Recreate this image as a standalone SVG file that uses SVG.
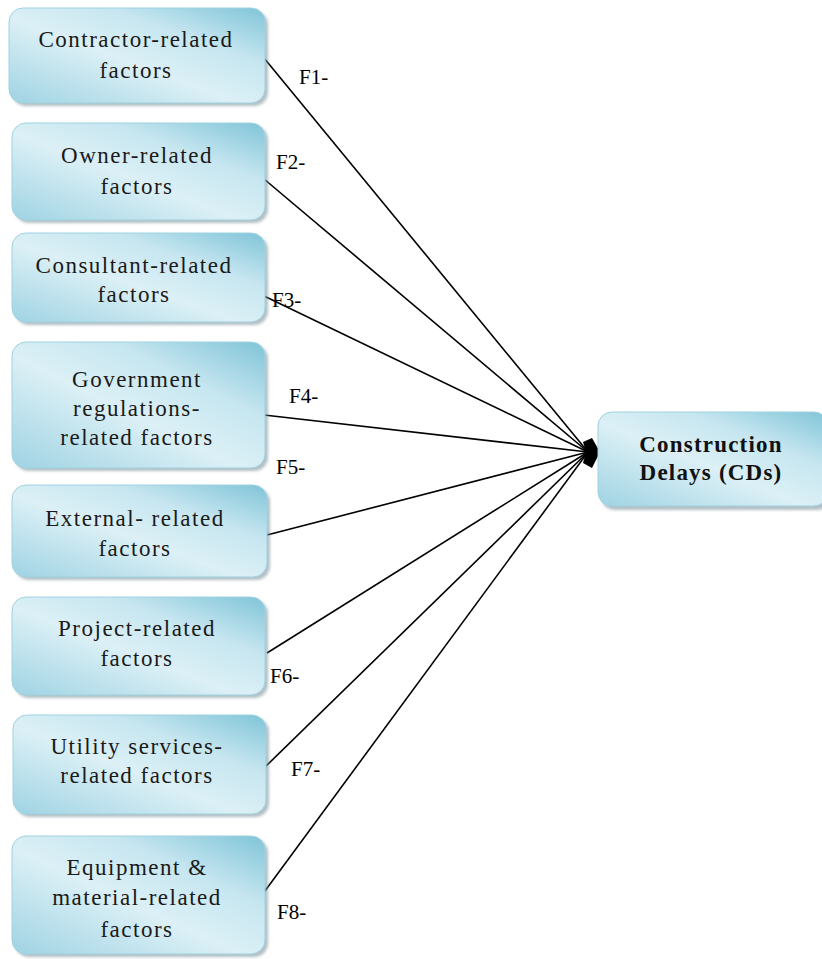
<svg xmlns="http://www.w3.org/2000/svg" width="822" height="959" viewBox="0 0 822 959">
<style>
.box{fill:url(#g);stroke:#9fd2e0;stroke-width:1}
.sh{fill:#7f949c;opacity:0.6}
text{font-family:'Liberation Serif','DejaVu Serif','Times New Roman',serif}
.t{font-size:23px;fill:#1a1a1a;text-anchor:middle;letter-spacing:1.5px}
.b{font-weight:bold;letter-spacing:1.2px;fill:#111}
.l{font-size:21px;fill:#000}
.c{stroke:#000;stroke-width:1.6;fill:none}
</style>
<defs>
<linearGradient id="g" x1="0" y1="1" x2="1" y2="0">
<stop offset="0" stop-color="#9fd3e3"/>
<stop offset="0.45" stop-color="#dcf0f6"/>
<stop offset="0.7" stop-color="#c6e6f0"/>
<stop offset="1" stop-color="#7fc4d8"/>
</linearGradient>
<filter id="blur" x="-5%" y="-5%" width="110%" height="115%"><feGaussianBlur stdDeviation="1.5"/></filter>
</defs>
<g id="connectors">
<line class="c" x1="264" y1="58" x2="588" y2="452"/>
<line class="c" x1="264" y1="179" x2="588" y2="452"/>
<line class="c" x1="264" y1="296" x2="588" y2="452"/>
<line class="c" x1="264" y1="415" x2="588" y2="452"/>
<line class="c" x1="267" y1="535" x2="588" y2="452"/>
<line class="c" x1="267" y1="653" x2="588" y2="452"/>
<line class="c" x1="263" y1="769" x2="588" y2="452"/>
<line class="c" x1="262" y1="895" x2="588" y2="452"/>
<polygon points="583,442 592,438 600,452 592,468 583,463 586,452" fill="#000"/>
</g>
<g id="labels">
<text class="l" x="299" y="84">F1-</text>
<text class="l" x="276" y="169">F2-</text>
<text class="l" x="272" y="307">F3-</text>
<text class="l" x="289" y="403">F4-</text>
<text class="l" x="276" y="474">F5-</text>
<text class="l" x="270" y="683">F6-</text>
<text class="l" x="291" y="776">F7-</text>
<text class="l" x="277" y="919">F8-</text>
</g>
<g id="n1">
<rect class="sh" x="12" y="11" width="256" height="95" rx="14" filter="url(#blur)"/>
<rect class="box" x="9" y="8" width="256" height="95" rx="14"/>
<text class="t" x="136" y="47">Contractor-related</text>
<text class="t" x="136" y="78">factors</text>
</g>
<g id="n2">
<rect class="sh" x="15" y="126" width="253" height="97" rx="14" filter="url(#blur)"/>
<rect class="box" x="12" y="123" width="253" height="97" rx="14"/>
<text class="t" x="137" y="163">Owner-related</text>
<text class="t" x="137" y="194">factors</text>
</g>
<g id="n3">
<rect class="sh" x="15" y="236" width="253" height="89" rx="14" filter="url(#blur)"/>
<rect class="box" x="12" y="233" width="253" height="89" rx="14"/>
<text class="t" x="134" y="273">Consultant-related</text>
<text class="t" x="134" y="302">factors</text>
</g>
<g id="n4">
<rect class="sh" x="15" y="345" width="253" height="126" rx="14" filter="url(#blur)"/>
<rect class="box" x="12" y="342" width="253" height="126" rx="14"/>
<text class="t" x="137" y="387">Government</text>
<text class="t" x="137" y="416">regulations-</text>
<text class="t" x="137" y="445">related factors</text>
</g>
<g id="n5">
<rect class="sh" x="15" y="488" width="255" height="92" rx="14" filter="url(#blur)"/>
<rect class="box" x="12" y="485" width="255" height="92" rx="14"/>
<text class="t" x="135" y="526">External- related</text>
<text class="t" x="135" y="556">factors</text>
</g>
<g id="n6">
<rect class="sh" x="15" y="600" width="253" height="98" rx="14" filter="url(#blur)"/>
<rect class="box" x="12" y="597" width="253" height="98" rx="14"/>
<text class="t" x="137" y="636">Project-related</text>
<text class="t" x="137" y="666">factors</text>
</g>
<g id="n7">
<rect class="sh" x="16" y="718" width="253" height="99" rx="14" filter="url(#blur)"/>
<rect class="box" x="13" y="715" width="253" height="99" rx="14"/>
<text class="t" x="137" y="754">Utility  services-</text>
<text class="t" x="137" y="783">related factors</text>
</g>
<g id="n8">
<rect class="sh" x="15" y="839" width="253" height="118" rx="14" filter="url(#blur)"/>
<rect class="box" x="12" y="836" width="253" height="118" rx="14"/>
<text class="t" x="137" y="875">Equipment &amp;</text>
<text class="t" x="137" y="905">material-related</text>
<text class="t" x="137" y="937">factors</text>
</g>
<g id="cd">
<rect class="sh" x="601" y="416" width="230" height="94" rx="14" filter="url(#blur)"/>
<rect class="box" x="598" y="412" width="230" height="94" rx="14"/>
<text class="t b" x="711" y="452">Construction</text>
<text class="t b" x="711" y="480">Delays (CDs)</text>
</g>
</svg>
